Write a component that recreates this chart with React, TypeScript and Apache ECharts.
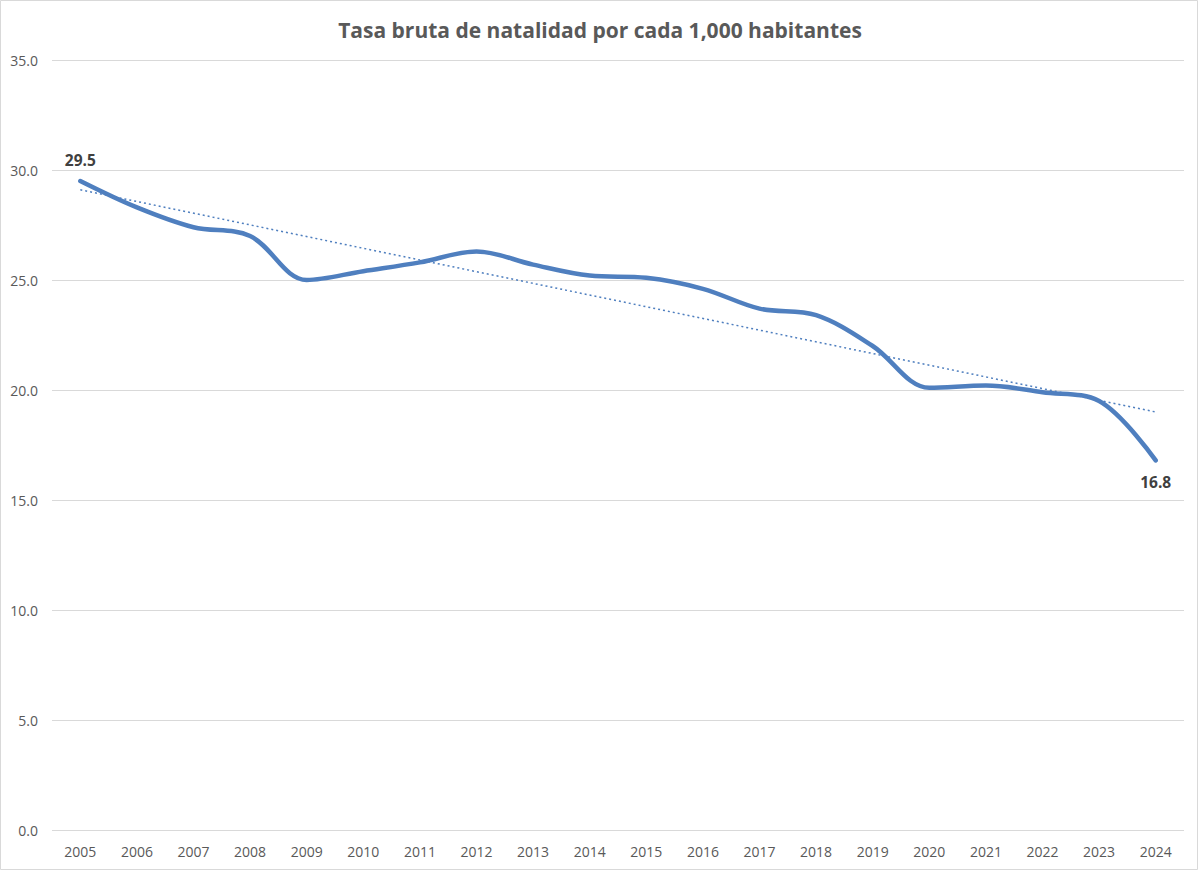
import React, { useEffect, useRef } from "react";
import * as echarts from "echarts";

const years = ["2005","2006","2007","2008","2009","2010","2011","2012","2013","2014","2015","2016","2017","2018","2019","2020","2021","2022","2023","2024"];
const rates = [29.5, 28.3, 27.4, 27.0, 25.0, 25.4, 25.8, 26.3, 25.7, 25.2, 25.1, 24.6, 23.7, 23.4, 22.0, 20.1, 20.2, 19.9, 19.5, 16.8];
const trendEnds = [29.1, 19.0];
const titleText = "Tasa bruta de natalidad por cada 1,000 habitantes";

export default function App() {
  const ref = useRef<HTMLDivElement>(null);
  useEffect(() => {
    if (!ref.current) return;
    const chart = echarts.init(ref.current, null, { renderer: "svg" });
    const trendData = years.map((_, i) => (i === 0 ? trendEnds[0] : i === years.length - 1 ? trendEnds[1] : null));
    const font = "'Open Sans', 'Noto Sans', sans-serif";
    chart.setOption({
      animation: false,
      backgroundColor: "#ffffff",
      textStyle: { fontFamily: font },
      title: {
        text: titleText,
        left: "center",
        top: 14,
        textStyle: { fontFamily: font, fontSize: 21, fontWeight: "bold", color: "#595959" },
      },
      graphic: [
        {
          type: "rect",
          shape: { x: 0.5, y: 0.5, width: 1197, height: 869 },
          style: { fill: "none", stroke: "#d9d9d9", lineWidth: 1 },
          silent: true,
        },
      ],
      grid: { left: 52, right: 16, top: 60, bottom: 42, containLabel: false },
      xAxis: {
        type: "category",
        data: years,
        boundaryGap: true,
        axisLine: { show: false },
        axisTick: { show: false },
        axisLabel: { color: "#595959", fontSize: 14, margin: 14, fontFamily: font },
        splitLine: { show: false },
      },
      yAxis: {
        type: "value",
        min: 0,
        max: 35,
        interval: 5,
        axisLine: { show: false },
        axisTick: { show: false },
        axisLabel: { color: "#595959", fontSize: 14, margin: 14, fontFamily: font, formatter: (v: number) => v.toFixed(1) },
        splitLine: { lineStyle: { color: "#d9d9d9", width: 1 } },
      },
      series: [
        {
          type: "line",
          data: trendData,
          connectNulls: true,
          showSymbol: false,
          symbol: "none",
          lineStyle: { color: "#4f7fbf", width: 1.5, type: [2, 3] },
          z: 1,
        },
        {
          type: "line",
          data: rates,
          smooth: 0.35,
          showSymbol: false,
          symbol: "circle",
          symbolSize: 1,
          lineStyle: { color: "#4f7fbf", width: 4.5, cap: "round" },
          itemStyle: { color: "#4f7fbf" },
          label: { show: false },
          markPoint: {
            symbol: "circle",
            symbolSize: 0,
            data: [
              {
                coord: [0, rates[0]],
                label: { show: true, position: "top", distance: 13, formatter: rates[0].toFixed(1), color: "#404040", fontSize: 15.5, fontWeight: "bold", fontFamily: font },
              },
              {
                coord: [years.length - 1, rates[rates.length - 1]],
                label: { show: true, position: "bottom", distance: 14, formatter: rates[rates.length - 1].toFixed(1), color: "#404040", fontSize: 15.5, fontWeight: "bold", fontFamily: font },
              },
            ],
          },
          z: 2,
        },
      ],
    });
    return () => chart.dispose();
  }, []);
  return <div ref={ref} style={{ position: "fixed", left: 0, top: 0, width: 1200, height: 872 }} />;
}
